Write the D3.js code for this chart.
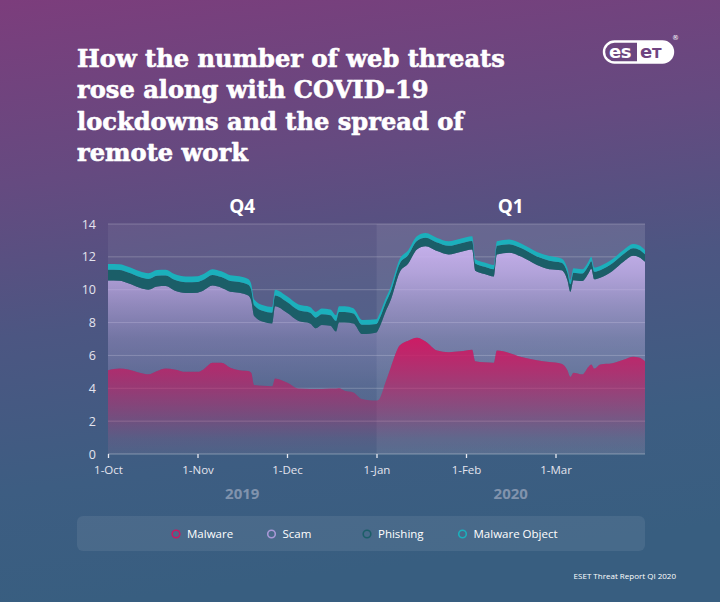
<!DOCTYPE html>
<html><head><meta charset="utf-8">
<script src="https://cdn.jsdelivr.net/npm/d3@7"></script>
<style>html,body{margin:0;padding:0;background:#3a5d80;} svg{display:block}</style>
</head><body><svg id="c" width="720" height="602"></svg>
<script>
// ---------- DATA ----------
const dates = ["2019-10-01","2019-10-05","2019-10-08","2019-10-12","2019-10-15","2019-10-18","2019-10-21","2019-10-24","2019-10-28",
"2019-11-01","2019-11-03","2019-11-06","2019-11-09","2019-11-12","2019-11-15","2019-11-18","2019-11-19","2019-11-20","2019-11-23","2019-11-26","2019-11-27",
"2019-12-01","2019-12-05","2019-12-09","2019-12-11","2019-12-13","2019-12-16","2019-12-18","2019-12-19","2019-12-21","2019-12-24","2019-12-27",
"2020-01-01","2020-01-02","2020-01-04","2020-01-06","2020-01-09","2020-01-12","2020-01-15","2020-01-18","2020-01-22","2020-01-26","2020-01-30",
"2020-02-03","2020-02-04","2020-02-07","2020-02-10","2020-02-11","2020-02-15","2020-02-19","2020-02-24","2020-02-28",
"2020-03-03","2020-03-05","2020-03-06","2020-03-07","2020-03-10","2020-03-12","2020-03-13","2020-03-14","2020-03-16","2020-03-20","2020-03-24","2020-03-27","2020-03-29","2020-03-31"];
const malware = [5.1,5.2,5.15,4.95,4.85,5.05,5.2,5.15,5.0,
5.0,5.15,5.55,5.55,5.25,5.1,5.05,4.95,4.2,4.15,4.12,4.6,
4.35,3.98,3.95,3.95,3.95,3.98,3.98,4.02,3.85,3.75,3.35,
3.25,3.35,4.3,5.3,6.6,6.9,7.08,6.85,6.3,6.2,6.25,
6.35,5.65,5.58,5.56,6.3,6.15,5.9,5.7,5.6,
5.5,5.1,4.7,4.95,4.85,5.3,5.45,5.2,5.45,5.52,5.75,5.92,5.88,5.65];
const scam = [5.46,5.35,5.25,5.17,5.15,5.15,5.02,4.8,4.8,
4.82,4.8,4.7,4.57,4.63,4.72,4.6,4.4,4.2,3.9,3.83,4.4,
4.25,4.12,4.0,3.7,3.9,3.82,3.47,3.98,4.15,4.2,3.95,
4.15,4.35,4.3,4.1,4.45,4.7,5.37,5.8,6.05,5.95,6.05,
6.1,5.5,5.37,5.24,5.85,6.1,6.1,5.8,5.65,
5.68,5.48,5.18,5.63,5.68,5.68,5.83,5.43,5.28,5.61,5.98,6.14,6.1,6.05];
const phishing = [0.65,0.65,0.65,0.65,0.65,0.65,0.65,0.65,0.65,
0.65,0.65,0.65,0.65,0.65,0.65,0.65,0.65,0.65,0.65,0.65,0.65,
0.65,0.65,0.65,0.65,0.65,0.65,0.65,0.65,0.65,0.6,0.56,
0.52,0.52,0.52,0.52,0.52,0.52,0.52,0.52,0.52,0.52,0.52,
0.52,0.45,0.45,0.45,0.52,0.52,0.52,0.52,0.52,
0.46,0.46,0.46,0.46,0.46,0.46,0.46,0.46,0.46,0.46,0.46,0.46,0.46,0.46];
const malwareObject = [0.35,0.35,0.35,0.35,0.35,0.35,0.35,0.35,0.35,
0.35,0.35,0.35,0.35,0.35,0.35,0.35,0.35,0.35,0.35,0.35,0.35,
0.35,0.35,0.35,0.35,0.35,0.35,0.35,0.35,0.35,0.32,0.3,
0.28,0.28,0.28,0.28,0.28,0.28,0.28,0.28,0.28,0.28,0.28,
0.28,0.25,0.25,0.25,0.28,0.28,0.28,0.28,0.28,
0.26,0.26,0.26,0.26,0.26,0.26,0.26,0.26,0.26,0.26,0.26,0.26,0.26,0.26];
const seriesNames = ["Malware","Scam","Phishing","Malware Object"];
const seriesColors = ["#c81a62","#a999d8","#1b5e68","#1bb0bc"];
const yTicks = [0,2,4,6,8,10,12,14];
const monthTicks = ["2019-10-01","2019-11-01","2019-12-01","2020-01-01","2020-02-01","2020-03-01"];
const monthLabels = ["1-Oct","1-Nov","1-Dec","1-Jan","1-Feb","1-Mar"];
const quarterLabels = ["Q4","Q1"];
const yearLabels = ["2019","2020"];
const titleLines = ["How the number of web threats","rose along with COVID-19","lockdowns and the spread of","remote work"];
const footer = "ESET Threat Report QI 2020";

// ---------- SETUP ----------
const parse = d3.timeParse("%Y-%m-%d");
const svg = d3.select("#c");
const W = 720, H = 602;
const pL = 108, pR = 645, pT = 224, pB = 454;
const monthStops = ["2019-10-01","2019-11-01","2019-12-01","2020-01-01","2020-02-01","2020-03-01","2020-03-31"].map(parse);
const x = d3.scaleTime().domain(monthStops).range(monthStops.map((d,i)=> pL + i*(pR-pL)/6));
const y = d3.scaleLinear().domain([0,14]).range([pB, pT]);

const defs = svg.append("defs");
const bg = defs.append("linearGradient").attr("id","bg").attr("x1",0).attr("y1",0).attr("x2",0.15).attr("y2",1);
[[0,"#7c3d7c"],[0.3,"#654a80"],[0.55,"#4c5682"],[0.8,"#3d5d82"],[1,"#385e80"]].forEach(s=>bg.append("stop").attr("offset",s[0]).attr("stop-color",s[1]));
svg.append("rect").attr("width",W).attr("height",H).attr("fill","url(#bg)");

// plot backgrounds
const jan1 = parse("2020-01-01");
svg.append("rect").attr("x",pL).attr("y",pT).attr("width",x(jan1)-pL).attr("height",pB-pT).attr("fill","#fff").attr("opacity",0.06);
svg.append("rect").attr("x",x(jan1)).attr("y",pT).attr("width",pR-x(jan1)).attr("height",pB-pT).attr("fill","#fff").attr("opacity",0.12);

// gridlines
svg.append("g").selectAll("line").data(yTicks.filter(d=>d>0)).join("line")
  .attr("x1",pL).attr("x2",pR).attr("y1",d=>y(d)).attr("y2",d=>y(d))
  .attr("stroke","#fff").attr("stroke-opacity",0.22).attr("stroke-width",1);

// data table + stack
const table = dates.map((d,i)=>({date:parse(d),Malware:malware[i],Scam:scam[i],Phishing:phishing[i],"Malware Object":malwareObject[i]}));
const stacked = d3.stack().keys(seriesNames)(table);

function grad(id, color, stops){
  const g = defs.append("linearGradient").attr("id",id).attr("gradientUnits","userSpaceOnUse")
    .attr("x1",0).attr("y1",y(13.5)).attr("x2",0).attr("y2",y(0));
  stops.forEach(s=>g.append("stop").attr("offset",s[0]).attr("stop-color",color).attr("stop-opacity",s[1]));
}
grad("gScam","#c8b2ee",[[0.03,1],[0.185,0.78],[0.33,0.5],[0.48,0.26],[0.7,0.08],[1,0]]);
grad("gMal","#cc1c65",[[0.48,1],[0.63,0.72],[0.78,0.42],[0.93,0.1],[1,0.03]]);

const area = d3.area().x(d=>x(d.data.date)).y0(d=>y(d[0])).y1(d=>y(d[1])).curve(d3.curveMonotoneX);
const fills = ["url(#gMal)","url(#gScam)",seriesColors[2],seriesColors[3]];
[1,0,2,3].forEach(k=>{
  svg.append("path").datum(stacked[k]).attr("d",area).attr("fill",fills[k]);
});

// x axis
svg.append("line").attr("x1",pL).attr("x2",pR).attr("y1",pB).attr("y2",pB)
  .attr("stroke","#fff").attr("stroke-opacity",0.35);
const xAxis = d3.axisBottom(x).tickValues(monthTicks.map(parse)).tickFormat((d,i)=>monthLabels[i]).tickSize(4).tickPadding(8);
const gx = svg.append("g").attr("transform",`translate(0,${pB})`).call(xAxis);
gx.select(".domain").remove();
gx.selectAll("line").attr("stroke","#e8e8f0").attr("stroke-width",1.3);
gx.selectAll("text").attr("fill","#e4e4ee").attr("font-family","Open Sans").attr("font-size","11.5px");

// y axis
const yAxis = d3.axisLeft(y).tickValues(yTicks).tickSize(0).tickPadding(12);
const gy = svg.append("g").attr("transform",`translate(${pL},0)`).call(yAxis);
gy.select(".domain").remove();
gy.selectAll("text").attr("fill","#e4e4ee").attr("font-family","Open Sans").attr("font-size","12.5px");

// quarter + year labels
const qCenters = [(pL+x(jan1))/2, (x(jan1)+pR)/2];
svg.selectAll(".q").data(quarterLabels).join("text").attr("x",(d,i)=>qCenters[i]).attr("y",213)
  .attr("text-anchor","middle").attr("fill","#fff").attr("font-family","Open Sans").attr("font-weight",700).attr("font-size","19px").text(d=>d);
svg.selectAll(".yr").data(yearLabels).join("text").attr("x",(d,i)=>qCenters[i]).attr("y",499)
  .attr("text-anchor","middle").attr("fill","#8193ad").attr("font-family","Open Sans").attr("font-weight",700).attr("font-size","15px").text(d=>d);

// title
const tg = svg.append("g").attr("font-family","DejaVu Serif").attr("font-weight",700).attr("fill","#fff")
  .attr("stroke","#fff").attr("stroke-width",0.6).attr("stroke-linejoin","round");
const tl = tg.selectAll("text").data(titleLines).join("text").attr("x",77).attr("y",(d,i)=>67+i*31.3).attr("font-size","22px").text(d=>d);
const len0 = tl.node().getComputedTextLength();
const fs = 22*428/len0;
tl.attr("font-size",fs+"px");

// logo
const lg = svg.append("g");
defs.append("clipPath").attr("id","logoClip").append("rect").attr("x",604).attr("y",41.5).attr("width",69).attr("height",21).attr("rx",10.5);
lg.append("rect").attr("x",637).attr("y",40).attr("width",40).attr("height",25).attr("fill","#fff").attr("clip-path","url(#logoClip)");
lg.append("rect").attr("x",604).attr("y",41.5).attr("width",69).attr("height",21).attr("rx",10.5).attr("fill","none").attr("stroke","#fff").attr("stroke-width",2.4);
lg.append("text").attr("x",609).attr("y",58).attr("fill","#fff").attr("font-family","DejaVu Sans").attr("font-weight",700).attr("font-size","18px").attr("letter-spacing","-0.5px").text("es");
lg.append("text").attr("x",640).attr("y",58).attr("fill","#6f4380").attr("font-family","DejaVu Sans").attr("font-weight",700).attr("font-size","18px").text("e");
lg.append("text").attr("x",652).attr("y",58).attr("fill","#6f4380").attr("font-family","DejaVu Sans").attr("font-weight",700).attr("font-size","14px").text("T");
lg.append("text").attr("x",672).attr("y",40).attr("fill","#fff").attr("font-family","DejaVu Sans").attr("font-size","7px").text("®");

// legend
svg.append("rect").attr("x",77).attr("y",516).attr("width",568).attr("height",35).attr("rx",6).attr("fill","#fff").attr("opacity",0.08);
const legX = [176,271.5,367,462.5];
const li = svg.selectAll(".leg").data(seriesNames).join("g").attr("transform",(d,i)=>`translate(${legX[i]},534)`);
li.append("circle").attr("r",3.8).attr("fill","none").attr("stroke",(d,i)=>seriesColors[i]).attr("stroke-width",1.6);
li.append("text").attr("x",11).attr("y",4).attr("fill","#fff").attr("font-family","Open Sans").attr("font-size","11.5px").text(d=>d);

// footer
svg.append("text").attr("x",676).attr("y",579).attr("text-anchor","end").attr("fill","#fff").attr("font-family","Open Sans").attr("font-size","8px").text(footer);
</script></body></html>
